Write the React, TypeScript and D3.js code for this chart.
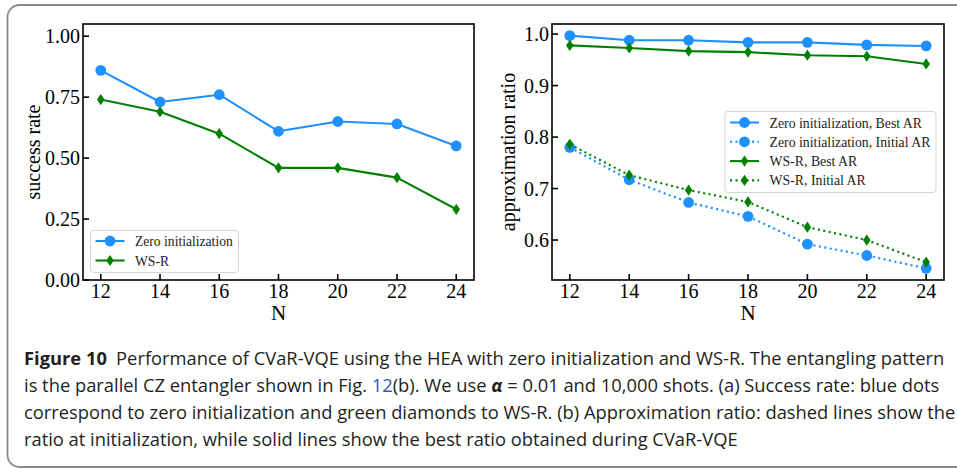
import React, { useEffect, useRef } from "react";
import * as d3 from "d3";

// Problem sizes (number of qubits)
const qubits = [12, 14, 16, 18, 20, 22, 24];

// (a) success rate
const successZero = [0.86, 0.73, 0.76, 0.61, 0.65, 0.64, 0.55];
const successWsr = [0.74, 0.69, 0.6, 0.46, 0.46, 0.42, 0.29];

// (b) approximation ratio
const bestArZero = [0.997, 0.988, 0.988, 0.984, 0.984, 0.979, 0.977];
const initArZero = [0.78, 0.717, 0.673, 0.646, 0.592, 0.57, 0.545];
const bestArWsr = [0.978, 0.973, 0.967, 0.965, 0.959, 0.957, 0.942];
const initArWsr = [0.786, 0.726, 0.697, 0.674, 0.625, 0.6, 0.557];

const successTicks = [0, 0.25, 0.5, 0.75, 1.0];
const ratioTicks = [0.6, 0.7, 0.8, 0.9, 1.0];

const BLUE = "#1e90ff";
const GREEN = "#008000";
const SERIF = "'Liberation Serif', 'DejaVu Serif', serif";
const SANS = "'Open Sans', 'Noto Sans', sans-serif";

type Series = {
  label: string;
  values: number[];
  color: string;
  marker: "circle" | "diamond";
  dotted: boolean;
};

type Panel = {
  left: number;
  right: number;
  top: number;
  bottom: number;
  yDomain: [number, number];
  yTicks: number[];
  yFormat: (v: number) => string;
  yLabel: string;
  yLabelX: number;
  series: Series[];
  legend: { x: number; y: number; w: number; h: number; row0: number; rowGap: number; font: number };
};

const panels: Panel[] = [
  {
    left: 83,
    right: 474,
    top: 24,
    bottom: 280,
    yDomain: [0, 1.05],
    yTicks: successTicks,
    yFormat: d3.format(".2f"),
    yLabel: "success rate",
    yLabelX: 40,
    series: [
      { label: "Zero initialization", values: successZero, color: BLUE, marker: "circle", dotted: false },
      { label: "WS-R", values: successWsr, color: GREEN, marker: "diamond", dotted: false },
    ],
    legend: { x: 90.5, y: 230.5, w: 148, h: 42, row0: 241, rowGap: 19.5, font: 13.6 },
  },
  {
    left: 552,
    right: 944,
    top: 24,
    bottom: 280,
    yDomain: [0.5224, 1.0196],
    yTicks: ratioTicks,
    yFormat: d3.format(".1f"),
    yLabel: "approximation ratio",
    yLabelX: 515,
    series: [
      { label: "Zero initialization, Best AR", values: bestArZero, color: BLUE, marker: "circle", dotted: false },
      { label: "Zero initialization, Initial AR", values: initArZero, color: BLUE, marker: "circle", dotted: true },
      { label: "WS-R, Best AR", values: bestArWsr, color: GREEN, marker: "diamond", dotted: false },
      { label: "WS-R, Initial AR", values: initArWsr, color: GREEN, marker: "diamond", dotted: true },
    ],
    legend: { x: 725, y: 111.5, w: 211, h: 81, row0: 122.5, rowGap: 19.3, font: 13.8 },
  },
];

function drawMarker(
  g: d3.Selection<SVGGElement, unknown, null, undefined>,
  kind: "circle" | "diamond",
  x: number,
  y: number,
  color: string
) {
  if (kind === "circle") {
    g.append("circle").attr("cx", x).attr("cy", y).attr("r", 5.4).attr("fill", color);
  } else {
    const hw = 3.8;
    const hh = 5.6;
    g.append("path")
      .attr("d", `M${x},${y - hh}L${x + hw},${y}L${x},${y + hh}L${x - hw},${y}Z`)
      .attr("fill", color);
  }
}

function drawPanel(svg: d3.Selection<SVGSVGElement, unknown, null, undefined>, p: Panel) {
  const x = d3.scaleLinear().domain([11.4, 24.6]).range([p.left, p.right]);
  const y = d3.scaleLinear().domain(p.yDomain).range([p.bottom, p.top]);
  const g = svg.append("g");

  // data lines, then markers
  p.series.forEach((s) => {
    const line = d3
      .line<number>()
      .x((_, i) => x(qubits[i]))
      .y((v) => y(v));
    g.append("path")
      .attr("d", line(s.values))
      .attr("fill", "none")
      .attr("stroke", s.color)
      .attr("stroke-width", 2.1)
      .attr("stroke-dasharray", s.dotted ? "2.1,3.4" : null)
      .attr("stroke-linejoin", "round");
    const mg = g.append("g");
    s.values.forEach((v, i) => drawMarker(mg, s.marker, x(qubits[i]), y(v), s.color));
  });

  // frame
  g.append("rect")
    .attr("x", p.left)
    .attr("y", p.top)
    .attr("width", p.right - p.left)
    .attr("height", p.bottom - p.top)
    .attr("fill", "none")
    .attr("stroke", "#000")
    .attr("stroke-width", 1.6);

  // inward ticks
  const tickLen = 6;
  qubits.forEach((q) => {
    g.append("line")
      .attr("x1", x(q))
      .attr("x2", x(q))
      .attr("y1", p.bottom)
      .attr("y2", p.bottom - tickLen)
      .attr("stroke", "#000")
      .attr("stroke-width", 1.6);
    g.append("text")
      .attr("x", x(q))
      .attr("y", p.bottom + 18)
      .attr("text-anchor", "middle")
      .attr("font-family", SERIF)
      .attr("font-size", 20)
      .attr("fill", "#000")
      .text(String(q));
  });
  p.yTicks.forEach((t) => {
    g.append("line")
      .attr("x1", p.left)
      .attr("x2", p.left + tickLen)
      .attr("y1", y(t))
      .attr("y2", y(t))
      .attr("stroke", "#000")
      .attr("stroke-width", 1.6);
    g.append("text")
      .attr("x", p.left - 3)
      .attr("y", y(t) + 7)
      .attr("text-anchor", "end")
      .attr("font-family", SERIF)
      .attr("font-size", 20)
      .attr("fill", "#000")
      .text(p.yFormat(t));
  });

  // axis titles
  g.append("text")
    .attr("x", (p.left + p.right) / 2)
    .attr("y", p.bottom + 40)
    .attr("text-anchor", "middle")
    .attr("font-family", SERIF)
    .attr("font-size", 21)
    .text("N");
  const cy = (p.top + p.bottom) / 2;
  g.append("text")
    .attr("transform", `translate(${p.yLabelX},${cy}) rotate(-90)`)
    .attr("text-anchor", "middle")
    .attr("font-family", SERIF)
    .attr("font-size", 20)
    .text(p.yLabel);

  // legend
  const L = p.legend;
  const lg = g.append("g");
  lg.append("rect")
    .attr("x", L.x)
    .attr("y", L.y)
    .attr("width", L.w)
    .attr("height", L.h)
    .attr("rx", 3)
    .attr("fill", "rgba(255,255,255,0.8)")
    .attr("stroke", "#d6d6d6")
    .attr("stroke-width", 1);
  p.series.forEach((s, i) => {
    const ry = L.row0 + i * L.rowGap;
    const hx0 = L.x + 5;
    const hx1 = L.x + 34;
    lg.append("line")
      .attr("x1", hx0)
      .attr("x2", hx1)
      .attr("y1", ry)
      .attr("y2", ry)
      .attr("stroke", s.color)
      .attr("stroke-width", 2.1)
      .attr("stroke-dasharray", s.dotted ? "2.1,3.4" : null);
    drawMarker(lg, s.marker, (hx0 + hx1) / 2, ry, s.color);
    lg.append("text")
      .attr("x", L.x + 44.5)
      .attr("y", ry + 5)
      .attr("font-family", SERIF)
      .attr("font-size", L.font)
      .attr("fill", "#222")
      .text(s.label);
  });
}

type Span = { text: string; bold?: boolean; italic?: boolean; color?: string };
const captionLines: Span[][] = [
  [
    { text: "Figure 10", bold: true },
    { text: "\u2002Performance of CVaR-VQE using the HEA with zero initialization and WS-R. The entangling pattern" },
  ],
  [
    { text: "is the parallel CZ entangler shown in Fig. " },
    { text: "12", color: "#3355cc" },
    { text: "(b). We use " },
    { text: "\u03b1", italic: true, bold: true },
    { text: " = 0.01 and 10,000 shots. (a) Success rate: blue dots" },
  ],
  [{ text: "correspond to zero initialization and green diamonds to WS-R. (b) Approximation ratio: dashed lines show the" }],
  [{ text: "ratio at initialization, while solid lines show the best ratio obtained during CVaR-VQE" }],
];

export default function App() {
  const ref = useRef<SVGSVGElement>(null);

  useEffect(() => {
    const svg = d3.select(ref.current!);
    svg.selectAll("*").remove();

    svg
      .append("rect")
      .attr("x", 7.5)
      .attr("y", 5)
      .attr("width", 1000)
      .attr("height", 462)
      .attr("rx", 12)
      .attr("fill", "#fff")
      .attr("stroke", "#8a8a8a")
      .attr("stroke-width", 1.8);

    panels.forEach((p) => drawPanel(svg, p));

    // caption, condensed horizontally so the first line spans the text block
    const baselines = [365, 392, 419, 446];
    const cap = svg.append("g");
    const nodes: SVGTextElement[] = [];
    captionLines.forEach((spans) => {
      const t = cap
        .append("text")
        .attr("x", 0)
        .attr("y", 0)
        .attr("font-family", SANS)
        .attr("font-size", 18)
        .attr("fill", "#231f20")
        .attr("xml:space", "preserve");
      spans.forEach((s) => {
        t.append("tspan")
          .attr("font-weight", s.bold ? 700 : null)
          .attr("font-style", s.italic ? "italic" : null)
          .attr("fill", s.color ?? null)
          .text(s.text);
      });
      nodes.push(t.node()!);
    });
    const w1 = nodes[0].getComputedTextLength();
    const k = w1 > 0 ? 921 / w1 : 1;
    nodes.forEach((n, i) => {
      d3.select(n).attr("transform", `translate(24,${baselines[i]}) scale(${k},1)`);
    });
  }, []);

  return (
    <svg
      ref={ref}
      width={957}
      height={469}
      style={{ position: "absolute", left: 0, top: 0, background: "#fff" }}
    />
  );
}
